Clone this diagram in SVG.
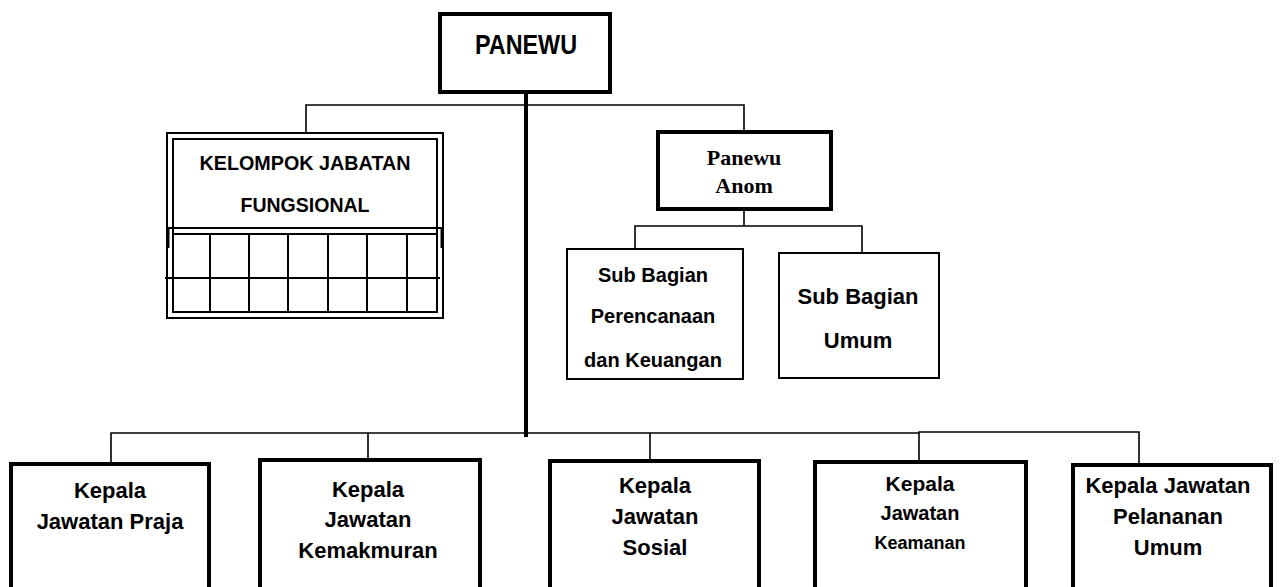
<svg xmlns="http://www.w3.org/2000/svg" width="1280" height="587" viewBox="0 0 1280 587">
  <style>
    .box { fill: #fff; stroke: #000; }
    .thick { stroke-width: 4; }
    .thin { stroke-width: 2; }
    .lbl { font-family: "Liberation Sans", Arial, sans-serif; font-weight: bold; fill: #000; text-anchor: middle; }
    .serif { font-family: "Liberation Serif", "Times New Roman", serif; font-weight: bold; fill: #000; text-anchor: middle; }
    .wire { stroke: #000; stroke-width: 1.6; fill: none; }
    .trunk { stroke: #000; stroke-width: 4; fill: none; }
    .grid { stroke: #000; stroke-width: 2; fill: none; }
  </style>
  <rect width="1280" height="587" fill="#fff"/>

  <!-- connectors -->
  <g id="connectors">
    <line class="trunk" x1="526" y1="93" x2="526" y2="437"/>
    <!-- upper branch -->
    <polyline class="wire" points="306,133 306,105 744,105 744,130"/>
    <!-- Panewu Anom to sub sections -->
    <line class="wire" x1="744" y1="211" x2="744" y2="226"/>
    <polyline class="wire" points="635,248 635,226 862,226 862,252"/>
    <!-- lower branch -->
    <polyline class="wire" points="111,462 111,433 919,433"/>
    <polyline class="wire" points="919,460 919,432 1139,432 1139,463"/>
    <line class="wire" x1="368" y1="433" x2="368" y2="458"/>
    <line class="wire" x1="650" y1="433" x2="650" y2="459"/>
  </g>

  <g id="panewu">
    <rect class="box thick" x="440" y="14" width="170" height="78"/>
    <text class="lbl" x="526" y="54" font-size="28" textLength="102" lengthAdjust="spacingAndGlyphs">PANEWU</text>
  </g>

  <g id="kelompok-jabatan-fungsional">
    <rect class="box" x="167" y="133" width="276" height="185" stroke-width="2"/>
    <rect class="box" x="173" y="139" width="264" height="173" stroke-width="2" fill="none"/>
    <line class="grid" x1="167" y1="228" x2="443" y2="228"/>
    <line class="grid" x1="173" y1="234" x2="437" y2="234"/>
    <!-- short heavier stubs where the title panel meets the grid -->
    <line x1="168" y1="228" x2="168" y2="248" stroke="#000" stroke-width="3"/>
    <line x1="442" y1="228" x2="442" y2="248" stroke="#000" stroke-width="3"/>
    <line class="grid" x1="165" y1="278" x2="440" y2="278"/>
    <line class="grid" x1="210" y1="234" x2="210" y2="312"/>
    <line class="grid" x1="249" y1="234" x2="249" y2="312"/>
    <line class="grid" x1="288" y1="234" x2="288" y2="312"/>
    <line class="grid" x1="328" y1="234" x2="328" y2="312"/>
    <line class="grid" x1="367" y1="234" x2="367" y2="312"/>
    <line class="grid" x1="407" y1="234" x2="407" y2="312"/>
    <text class="lbl" x="305" y="170" font-size="20" textLength="211" lengthAdjust="spacingAndGlyphs">KELOMPOK JABATAN</text>
    <text class="lbl" x="305" y="212" font-size="20" textLength="129" lengthAdjust="spacingAndGlyphs">FUNGSIONAL</text>
  </g>

  <g id="panewu-anom">
    <rect class="box thick" x="658" y="132" width="173" height="77"/>
    <text class="serif" x="744" y="165" font-size="22">Panewu</text>
    <text class="serif" x="744" y="193" font-size="22">Anom</text>
  </g>

  <g id="sub-bagian-perencanaan">
    <rect class="box thin" x="567" y="249" width="176" height="130"/>
    <text class="lbl" x="653" y="282" font-size="20">Sub Bagian</text>
    <text class="lbl" x="653" y="323" font-size="20">Perencanaan</text>
    <text class="lbl" x="653" y="367" font-size="20">dan Keuangan</text>
  </g>

  <g id="sub-bagian-umum">
    <rect class="box thin" x="779" y="253" width="160" height="125"/>
    <text class="lbl" x="858" y="304" font-size="22">Sub Bagian</text>
    <text class="lbl" x="858" y="348" font-size="22">Umum</text>
  </g>

  <g id="jawatan-praja">
    <rect class="box thick" x="11" y="464" width="198" height="130"/>
    <text class="lbl" x="110" y="498" font-size="22">Kepala</text>
    <text class="lbl" x="110" y="529" font-size="22">Jawatan Praja</text>
  </g>

  <g id="jawatan-kemakmuran">
    <rect class="box thick" x="260" y="460" width="220" height="134"/>
    <text class="lbl" x="368" y="497" font-size="22">Kepala</text>
    <text class="lbl" x="368" y="527" font-size="22">Jawatan</text>
    <text class="lbl" x="368" y="558" font-size="22">Kemakmuran</text>
  </g>

  <g id="jawatan-sosial">
    <rect class="box thick" x="550" y="461" width="209" height="133"/>
    <text class="lbl" x="655" y="493" font-size="22">Kepala</text>
    <text class="lbl" x="655" y="524" font-size="22">Jawatan</text>
    <text class="lbl" x="655" y="555" font-size="22">Sosial</text>
  </g>

  <g id="jawatan-keamanan">
    <rect class="box thick" x="815" y="462" width="211" height="132"/>
    <text class="lbl" x="920" y="491" font-size="21">Kepala</text>
    <text class="lbl" x="920" y="520" font-size="20">Jawatan</text>
    <text class="lbl" x="920" y="549" font-size="18">Keamanan</text>
  </g>

  <g id="jawatan-pelayanan-umum">
    <rect class="box thick" x="1073" y="465" width="198" height="129"/>
    <text class="lbl" x="1168" y="493" font-size="22">Kepala Jawatan</text>
    <text class="lbl" x="1168" y="524" font-size="22">Pelananan</text>
    <text class="lbl" x="1168" y="555" font-size="22">Umum</text>
  </g>
</svg>
